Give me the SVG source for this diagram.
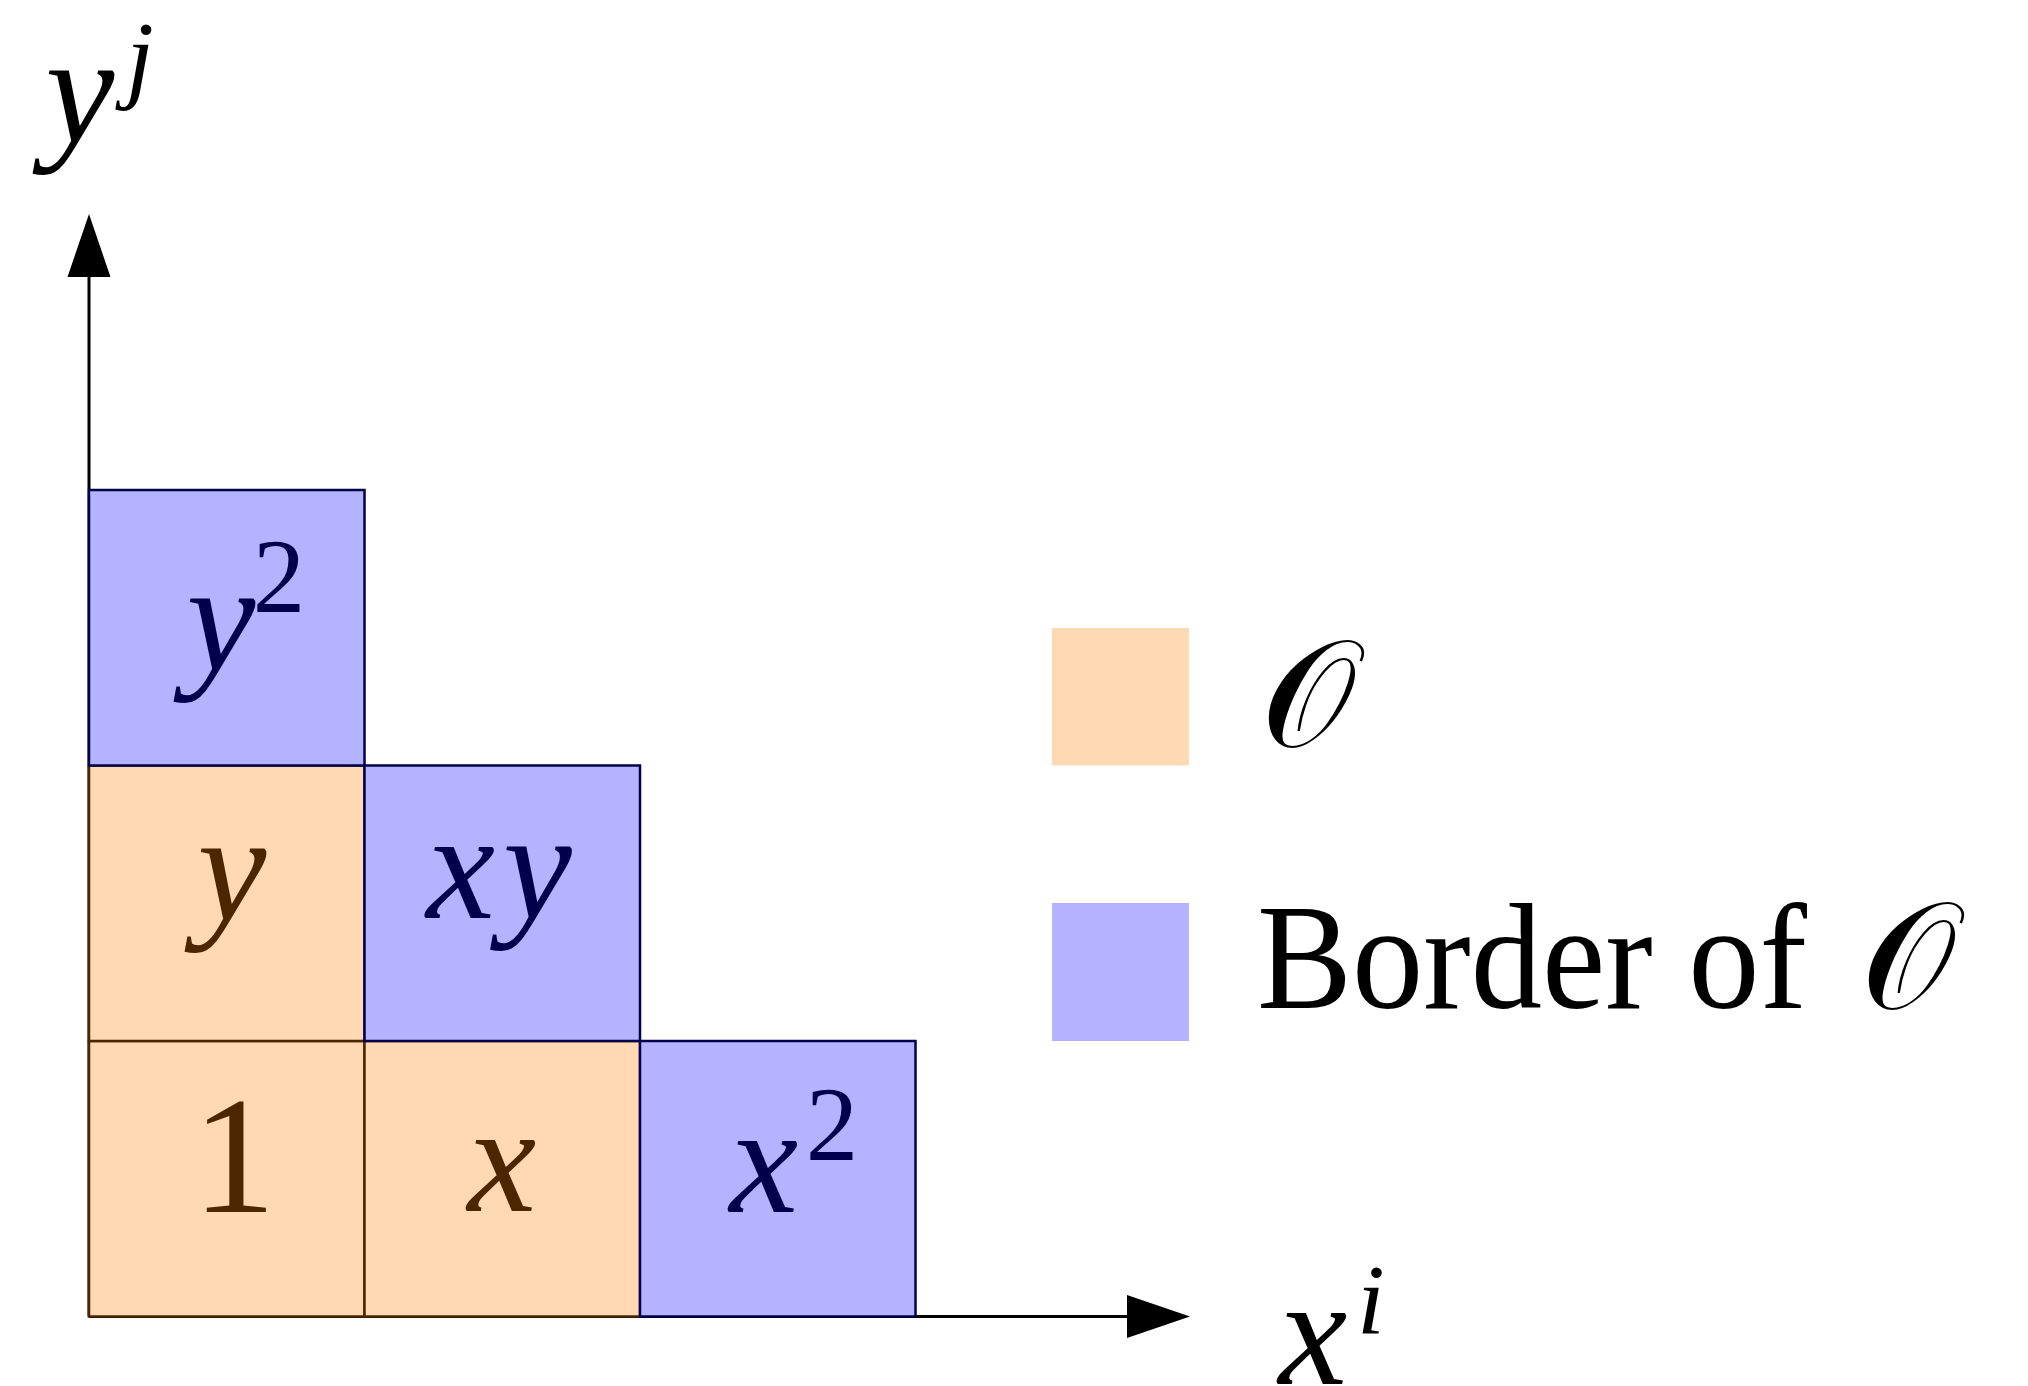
<svg xmlns="http://www.w3.org/2000/svg" width="2028" height="1386" viewBox="0 0 2028 1386">
<defs>
<style>
.o{fill:#FFD9B3;stroke:#4C2600;stroke-width:2.5}
.b{fill:#B3B3FF;stroke:#00004C;stroke-width:2.5}
.m{font-family:"Liberation Serif","DejaVu Serif",serif;font-style:italic;font-size:155px;text-anchor:middle}
.s{font-family:"Liberation Serif","DejaVu Serif",serif;font-size:105px;text-anchor:middle}
.si{font-family:"Liberation Serif","DejaVu Serif",serif;font-style:italic;font-size:100px;text-anchor:middle}
.tb{fill:#00004C}
.to{fill:#4C2600}
.axis{stroke:#000;stroke-width:3;fill:none}
.lg{font-family:"Liberation Serif","DejaVu Serif",serif;font-size:150px;fill:#000}
.cal{font-family:"DejaVu Serif","Noto Sans","DejaVu Sans",serif;font-size:150px;fill:#000}
</style>
</defs>
<rect width="2028" height="1386" fill="#fff"/>
<g id="connectors">
<line class="axis" x1="89" y1="1316.5" x2="89" y2="275"/>
<polygon points="89,214 67.5,277 110.5,277" fill="#000"/>
<line class="axis" x1="89" y1="1316.5" x2="1130" y2="1316.5"/>
<polygon points="1190,1316.5 1127,1295 1127,1338" fill="#000"/>
</g>
<g id="cell-1"><rect class="o" x="89" y="1041" width="275.5" height="275.5"/><text class="to" x="234" y="1212" font-family="Liberation Serif, serif" font-size="168" text-anchor="middle">1</text></g>
<g id="cell-x"><rect class="o" x="364.5" y="1041" width="275.5" height="275.5"/><text class="m to" x="502" y="1211">x</text></g>
<g id="cell-x2"><rect class="b" x="640" y="1041" width="275.5" height="275.5"/><text class="m tb" x="764" y="1212">x</text><text class="s tb" x="832" y="1160">2</text></g>
<g id="cell-y"><rect class="o" x="89" y="765.5" width="275.5" height="275.5"/><text class="m to" x="232" y="920">y</text></g>
<g id="cell-xy"><rect class="b" x="364.5" y="765.5" width="275.5" height="275.5"/><text class="m tb" x="503" y="918" letter-spacing="8">xy</text></g>
<g id="cell-y2"><rect class="b" x="89" y="490" width="275.5" height="275.5"/><text class="m tb" x="221" y="670">y</text><text class="s tb" x="279" y="612">2</text></g>
<g id="label-y-axis"><text class="m" x="80" y="142">y</text><text class="si" x="140" y="90">j</text></g>
<g id="label-x-axis"><text class="m" x="1313" y="1384">x</text><text class="si" x="1371" y="1333">i</text></g>
<g id="legend-O"><rect x="1052" y="628" width="137" height="137.5" fill="#FFD9B3"/><text class="cal" x="1261" y="746">𝒪</text></g>
<g id="legend-border"><rect x="1052" y="903" width="137" height="138" fill="#B3B3FF"/><text class="lg" x="1257" y="1008" textLength="550" lengthAdjust="spacingAndGlyphs">Border of</text><text class="cal" x="1861" y="1008">𝒪</text></g>
</svg>
